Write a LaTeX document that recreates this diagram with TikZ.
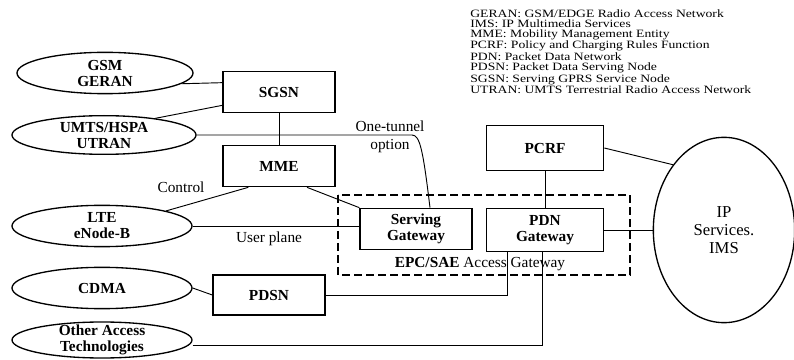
\documentclass[tikz,border=0pt]{standalone}
\usepackage{fontspec}
\setmainfont{Liberation Serif}
\usetikzlibrary{shapes.geometric}
\tikzset{
  access/.style={draw, line width=1pt, ellipse, inner sep=-2pt, minimum width=135pt,
    minimum height=31pt, align=center, font=\fontsize{11.5}{12}\selectfont\bfseries},
  unit/.style={draw, line width=1pt, rectangle, inner sep=0pt, minimum width=84pt,
    minimum height=31pt, align=center, font=\fontsize{11.5}{12}\selectfont\bfseries},
  link/.style={line width=0.7pt},
  tag/.style={font=\fontsize{11.5}{13.5}\selectfont, align=center},
  abbrev/.style={font=\fontsize{8.4}{7.6}\selectfont, align=left, xscale=1.22, transform shape, inner sep=0pt}
}
\begin{document}
\begin{tikzpicture}[x=0.75pt,y=-0.75pt]
    \useasboundingbox (0,0) rectangle (794,360);
    %% legend
    \node[abbrev, anchor=north west] (legend) at (470,9) {GERAN: GSM/EDGE Radio Access Network\\
        IMS: IP Multimedia Services\\
        MME: Mobility Management Entity\\
        PCRF: Policy and Charging Rules Function\\
        PDN: Packet Data Network\\
        PDSN: Packet Data Serving Node\\
        SGSN: Serving GPRS Service Node\\
        UTRAN: UMTS Terrestrial Radio Access Network};
    %% access networks
    \node[access, minimum width=132pt] (gsm) at (105,73) {GSM\\GERAN};
    \node[access, minimum width=138pt, minimum height=29pt] (umts) at (104,135) {UMTS/HSPA\\UTRAN};
    \node[access] (lte) at (102,226) {LTE\\eNode-B};
    \node[access] (cdma) at (102,288) {CDMA};
    \node[access, minimum height=27pt] (other) at (102,340) {Other Access\\Technologies};
    %% core
    \node[unit] (sgsn) at (279,92) {SGSN};
    \node[unit] (mme) at (279,166) {MME};
    \node[unit] (sgw) at (416,229) {Serving\\Gateway};
    \node[unit, minimum width=88pt, minimum height=32pt] (pdn) at (545,230) {PDN\\Gateway};
    \node[unit, minimum width=88pt, minimum height=34pt] (pcrf) at (545,148) {PCRF};
    \node[unit, minimum height=30pt] (pdsn) at (269,295) {PDSN};
    \node[draw, line width=1pt, ellipse, inner sep=0pt, minimum width=106pt, minimum height=139pt,
        align=center, font=\fontsize{12.5}{13.5}\selectfont] (ip) at (724,230) {IP\\Services.\\IMS};
    %% gateway box
    \draw[line width=1pt, dash pattern=on 6pt off 3pt] (338,195) rectangle (630,275);
    \node[font=\fontsize{11.5}{12}\selectfont] (epc) at (480,264) {\textbf{EPC/SAE} Access Gateway};
    %% links
    \draw[link] (gsm.-8) -- ([yshift=7pt]sgsn.west);
    \draw[link] (umts.18) -- ([yshift=6pt]sgsn.south west);
    \draw[link] (sgsn) -- (mme);
    \coordinate (tunnel) at (412,135);
    \draw[link] (umts.east) -- (tunnel) .. controls (420,135) and (423,150) .. ([xshift=10.5pt]sgw.north);
    \node[tag] (onetunnel) at (390,137) {One-tunnel\\option};
    \draw[link] ([xshift=-23pt]mme.south) -- (lte.north east);
    \node[tag] (control) at (181,187) {Control};
    \draw[link] ([xshift=21pt]mme.south) -- (sgw.north west);
    \draw[link] (lte.east) -- (lte.east -| sgw.west);
    \node[tag] (userplane) at (269,239) {User plane};
    \draw[link] (cdma.east) -- (pdsn.west);
    \draw[link] (pdsn.east) -| ([xshift=-28pt]pdn.south);
    \draw[link] ([yshift=-4pt]other.east) -| ([xshift=-2pt]pdn.south);
    \draw[link] (pcrf) -- (pdn);
    \draw[link] (pcrf.east) -- (ip.128);
    \draw[link] (pdn.east) -- (pdn.east -| ip.west);
\end{tikzpicture}
\end{document}
